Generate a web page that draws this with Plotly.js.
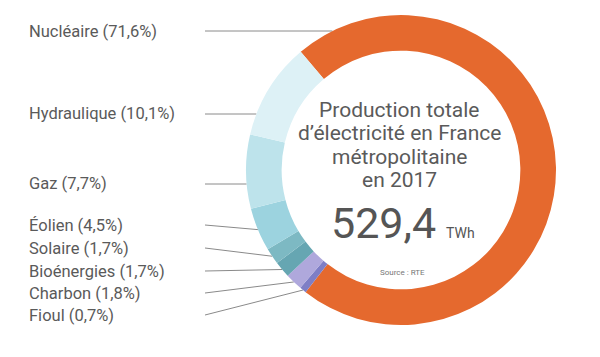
<!DOCTYPE html>
<html>
<head>
<meta charset="utf-8">
<script src="https://cdn.plot.ly/plotly-3.0.1.min.js"></script>
<style>html,body{margin:0;padding:0;background:#fff;}#chart{width:600px;height:357px;}</style>
</head>
<body>
<div id="chart"></div>
<script>
// Data (clockwise order in the ring, starting with Nucléaire)
const sources = ["Nucléaire", "Fioul", "Charbon", "Bioénergies", "Solaire", "Éolien", "Gaz", "Hydraulique"];
const shares = [71.6, 0.7, 1.8, 1.7, 1.7, 4.5, 7.7, 10.1];
const shareLabels = ["71,6%", "0,7%", "1,8%", "1,7%", "1,7%", "4,5%", "7,7%", "10,1%"];
const sliceColors = ["#E5692E", "#7E7EC6", "#AFA8DC", "#66A6B2", "#7DB9C3", "#9CD3DF", "#BDE3EB", "#DDF1F6"];
// Legend order on the left (top to bottom)
const legendOrder = ["Nucléaire", "Hydraulique", "Gaz", "Éolien", "Solaire", "Bioénergies", "Charbon", "Fioul"];
const totalTWh = "529,4";
const titleLines = ["Production totale", "d’électricité en France", "métropolitaine", "en 2017"];

// Layout geometry (pixels)
const W = 600, H = 357;
const cx = 401, cy = 170, R = 155, holeFrac = 0.77;
const rotation = -40.3;
const labelX = 27, lineStartX = 205;
const labelY = [31, 114, 184, 225, 248, 271, 293, 315];

const px = x => x / W;
const py = y => 1 - y / H;

const total = shares.reduce((a, b) => a + b, 0);
// compute slice angle ranges (clockwise from 12 o'clock, degrees)
const ranges = {};
let acc = rotation;
sources.forEach((s, i) => {
  const span = shares[i] / total * 360;
  ranges[s] = {start: acc, end: acc + span, share: shares[i], label: shareLabels[i]};
  acc += span;
});

const shapes = [];
const annotations = [];
legendOrder.forEach((s, k) => {
  const y = labelY[k];
  const r = ranges[s];
  let ex, ey;
  if (r.share > 5) {
    // horizontal leader line to the ring's outer edge
    const dy = y - cy;
    ex = cx - Math.sqrt(Math.max(R * R - dy * dy, 0));
    ey = y;
  } else {
    const mid = (r.start + r.end) / 2 * Math.PI / 180;
    ex = cx + R * Math.sin(mid);
    ey = cy - R * Math.cos(mid);
  }
  shapes.push({type: "line", xref: "paper", yref: "paper",
    x0: px(lineStartX), y0: py(y), x1: px(ex), y1: py(ey),
    line: {color: "#8a8a8a", width: 1}, layer: "below"});
  annotations.push({xref: "paper", yref: "paper", x: px(labelX), y: py(y),
    xanchor: "left", yanchor: "middle", showarrow: false,
    text: s + " (" + r.label + ")",
    font: {family: "Roboto", size: 16.5, color: "#5a5a5a"}});
});

// Center texts
const titleY = [110, 133, 157, 180];
titleLines.forEach((t, i) => {
  annotations.push({xref: "paper", yref: "paper", x: px(cx - 2), y: py(titleY[i]),
    xanchor: "center", yanchor: "middle", showarrow: false, text: t,
    font: {family: "Roboto", size: 21, color: "#5a5a5a"}});
});
annotations.push({xref: "paper", yref: "paper", x: px(438), y: py(223),
  xanchor: "right", yanchor: "middle", showarrow: false, text: totalTWh,
  font: {family: "Roboto", size: 43, color: "#555555"}});
annotations.push({xref: "paper", yref: "paper", x: px(444), y: py(233),
  xanchor: "left", yanchor: "middle", showarrow: false, text: "TWh",
  font: {family: "Roboto", size: 14, color: "#555555"}});
annotations.push({xref: "paper", yref: "paper", x: px(402), y: py(272),
  xanchor: "center", yanchor: "middle", showarrow: false, text: "Source : RTE",
  font: {family: "Roboto", size: 8, color: "#777777"}});

const trace = {
  type: "pie",
  labels: sources,
  values: shares,
  sort: false,
  direction: "clockwise",
  rotation: rotation,
  hole: holeFrac,
  textinfo: "none",
  hoverinfo: "label+percent",
  marker: {colors: sliceColors, line: {width: 0}},
  domain: {x: [px(cx - R), px(cx + R)], y: [py(cy + R), py(cy - R)]}
};

Plotly.newPlot("chart", [trace], {
  width: W, height: H,
  margin: {l: 0, r: 0, t: 0, b: 0},
  showlegend: false,
  paper_bgcolor: "#ffffff",
  shapes: shapes,
  annotations: annotations
}, {displayModeBar: false, staticPlot: true});
</script>
</body>
</html>
